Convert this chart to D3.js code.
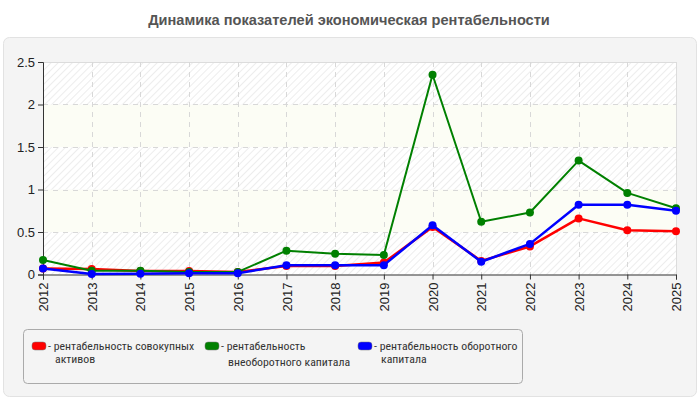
<!DOCTYPE html>
<html><head><meta charset="utf-8">
<script src="https://cdn.jsdelivr.net/npm/d3@7"></script>
<style>
html,body{margin:0;padding:0;background:#fff;}
svg{display:block;font-family:Arial,"Liberation Sans",sans-serif;}
</style></head>
<body><svg id="c" width="700" height="400"></svg>
<script>
const years = [2012,2013,2014,2015,2016,2017,2018,2019,2020,2021,2022,2023,2024,2025];
const assets = [0.07,0.065,0.04,0.04,0.03,0.10,0.10,0.14,0.56,0.16,0.33,0.66,0.52,0.51];
const fixedCap = [0.17,0.045,0.045,0.03,0.03,0.28,0.245,0.23,2.35,0.62,0.73,1.34,0.96,0.78];
const workCap = [0.07,0.005,0.01,0.015,0.015,0.11,0.11,0.11,0.58,0.15,0.36,0.82,0.82,0.75];
const yTicks = [0,0.5,1,1.5,2,2.5];
const seriesNames = [["рентабельность совокупных","активов"],["рентабельность","внеоборотного капитала"],["рентабельность оборотного","капитала"]];
const seriesColors = ["#ff0000","#008000","#0000ff"];
const seriesData = [assets, fixedCap, workCap];
const title = "Динамика показателей экономическая рентабельности";

const svg = d3.select("#c");
const defs = svg.append("defs");
const pat = defs.append("pattern").attr("id","hatch").attr("patternUnits","userSpaceOnUse")
  .attr("width",5).attr("height",5).attr("patternTransform","rotate(45)");
pat.append("rect").attr("width",5).attr("height",5).attr("fill","#ffffff");
pat.append("line").attr("x1",0).attr("y1",0).attr("x2",0).attr("y2",5).attr("stroke","#e9e9e9").attr("stroke-width",1.6);

// title area
svg.append("text").attr("x",349).attr("y",25).attr("text-anchor","middle")
  .attr("font-size",14.6).attr("font-weight","bold").attr("fill","#555").text(title);
svg.append("rect").attr("x",3.5).attr("y",37.5).attr("width",693).attr("height",359).attr("rx",6)
  .attr("fill","#f4f4f4").attr("stroke","#e2e2e2");

const m = {l:43, r:676, t:62, b:274.5};
const x = d3.scalePoint().domain(years).range([m.l, m.r]);
const y = d3.scaleLinear().domain([0,2.5]).range([m.b, m.t]);

// bands
const g = svg.append("g");
for (let i=0;i<yTicks.length-1;i++){
  const y0=y(yTicks[i]), y1=y(yTicks[i+1]);
  g.append("rect").attr("x",m.l).attr("y",y1).attr("width",m.r-m.l).attr("height",y0-y1)
    .attr("fill", i%2===0 ? "url(#hatch)" : "#fcfdf5");
}
g.append("line").attr("x1",m.l).attr("x2",m.r).attr("y1",m.t+0.5).attr("y2",m.t+0.5).attr("stroke","#dcdcdc");
g.append("line").attr("x1",m.r+0.5).attr("x2",m.r+0.5).attr("y1",m.t).attr("y2",m.b).attr("stroke","#dcdcdc");
// grid
g.selectAll(".gy").data(yTicks.slice(1,-1)).enter().append("line")
  .attr("x1",m.l).attr("x2",m.r).attr("y1",d=>Math.round(y(d))+0.5).attr("y2",d=>Math.round(y(d))+0.5)
  .attr("stroke","#d8d8d8").attr("stroke-dasharray","5,5");
g.selectAll(".gx").data(years.slice(1,-1)).enter().append("line")
  .attr("x1",d=>Math.round(x(d))+0.5).attr("x2",d=>Math.round(x(d))+0.5).attr("y1",m.t).attr("y2",m.b)
  .attr("stroke","#d8d8d8").attr("stroke-dasharray","5,5");

// axes
const ya = svg.append("g").attr("transform",`translate(${m.l},0)`)
  .call(d3.axisLeft(y).tickValues(yTicks).tickFormat(d3.format("")).tickSizeOuter(0).tickSize(5));
ya.select(".domain").attr("stroke","#333");
ya.selectAll(".tick line").attr("stroke","#333");
ya.selectAll("text").attr("font-size",13).attr("fill","#222").attr("font-family","Arial,'Liberation Sans',sans-serif").attr("x",-8);

const xa = svg.append("g").attr("transform",`translate(0,${m.b})`)
  .call(d3.axisBottom(x).tickSizeOuter(0).tickSize(5).tickFormat(d3.format("d")));
xa.select(".domain").attr("stroke","#333");
xa.selectAll(".tick line").attr("stroke","#333");
xa.selectAll("text").attr("font-size",13).attr("fill","#222").attr("font-family","Arial,'Liberation Sans',sans-serif")
  .attr("transform","rotate(-90)").attr("text-anchor","end").attr("x",-8).attr("y",0).attr("dy","0.35em");

// lines
const line = d3.line().x((d,i)=>x(years[i])).y(d=>y(d));
seriesData.forEach((s,k)=>{
  svg.append("path").datum(s).attr("d",line).attr("fill","none")
    .attr("stroke",seriesColors[k]).attr("stroke-width",k===1?2:2.5).attr("stroke-linejoin","round");
  svg.selectAll(".p"+k).data(s).enter().append("circle")
    .attr("cx",(d,i)=>x(years[i])).attr("cy",d=>y(d)).attr("r",4).attr("fill",seriesColors[k]);
});

// legend
svg.append("rect").attr("x",23.5).attr("y",329.5).attr("width",499).attr("height",54).attr("rx",4)
  .attr("fill","#f4f4f4").attr("stroke","#aaaaaa");
const lx = [32, 205, 358];
const l2 = [13.5, 16, 13.5];
const lf = "'Liberation Sans Narrow','Arial Narrow','Roboto Condensed',Arial,sans-serif";
seriesNames.forEach((nm,k)=>{
  const lg = svg.append("g").attr("transform",`translate(${lx[k]},0)`);
  lg.append("rect").attr("x",0).attr("y",342).attr("width",14).attr("height",8).attr("rx",3)
    .attr("fill",seriesColors[k]).attr("stroke","#777").attr("stroke-width",0.5);
  lg.append("text").attr("font-size",11.8).attr("fill","#333").attr("font-family",lf)
    .attr("x",16).attr("y",349.5).text("- "+nm[0]);
  lg.append("text").attr("font-size",11.8).attr("fill","#333").attr("font-family",lf)
    .attr("x",23).attr("y",349.5+l2[k]).text(nm[1]);
});
</script></body></html>
